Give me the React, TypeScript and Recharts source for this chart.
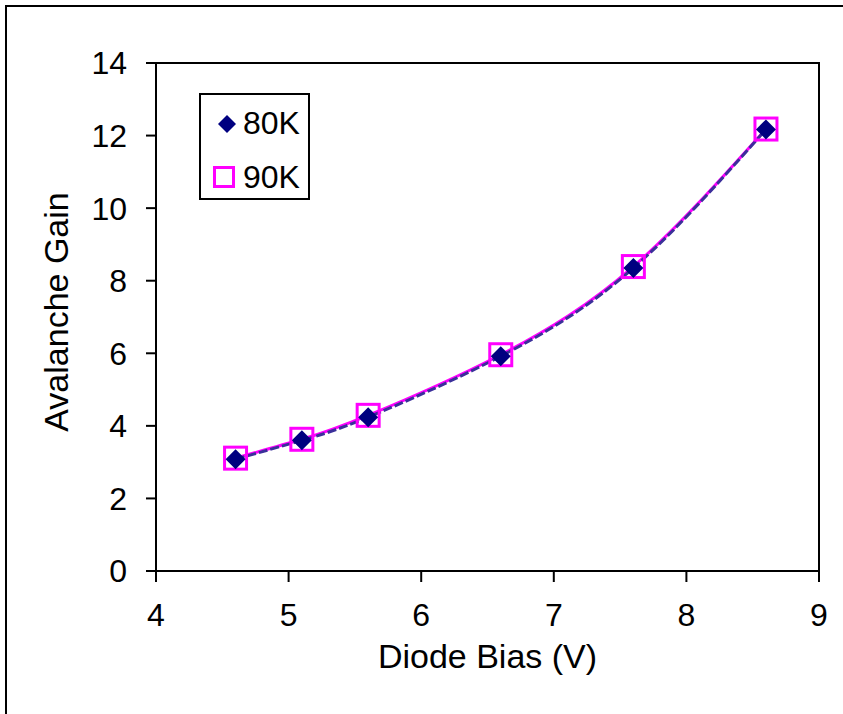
import { ComposedChart, Line, XAxis, YAxis, ReferenceArea, Legend } from 'recharts';

// diode bias (V)
const bias = [4.6, 5.1, 5.6, 6.6, 7.6, 8.6];
// avalanche gain at 80K and 90K
const gain80K = [3.08, 3.6, 4.24, 5.92, 8.35, 12.17];
const gain90K = [3.11, 3.63, 4.29, 5.96, 8.39, 12.18];

const xTicks = [4, 5, 6, 7, 8, 9];
const yTicks = [0, 2, 4, 6, 8, 10, 12, 14];

const NAVY = '#000080';
const MAGENTA = '#FF00FF';
const FONT = '"Liberation Sans", Arial, sans-serif';

const chartData = bias.map((x, i) => ({ x, g80: gain80K[i], g90: gain90K[i] }));

// 菱形点
const Diamond = (props: any) => {
  const { cx, cy } = props;
  if (cx == null || cy == null) return null;
  const r = 10;
  return <path d={`M${cx},${cy - r}L${cx + r},${cy}L${cx},${cy + r}L${cx - r},${cy}Z`} fill={NAVY} />;
};

// 空心方块
const Square = (props: any) => {
  const { cx, cy } = props;
  if (cx == null || cy == null) return null;
  const s = 22;
  return <rect x={cx - s / 2} y={cy - s / 2} width={s} height={s} fill="none" stroke={MAGENTA} strokeWidth={3} />;
};

const YLabel = ({ viewBox }: any) => {
  const cx = viewBox.x + 12;
  const cy = viewBox.y + viewBox.height / 2 - 5;
  return (
    <text x={cx} y={cy} transform={`rotate(-90, ${cx}, ${cy})`} textAnchor="middle" fill="#000" fontSize={34} fontFamily={FONT}>
      Avalanche Gain
    </text>
  );
};

const LegendBox = () => (
  <div style={{ width: 107, height: 103, border: '2px solid #000', background: '#fff', fontFamily: FONT, fontSize: 32, position: 'relative' }}>
    <svg width={30} height={30} style={{ position: 'absolute', left: 11, top: 14 }}>
      <path d="M15,6L24,15L15,24L6,15Z" fill={NAVY} />
    </svg>
    <span style={{ position: 'absolute', left: 42, top: 10, lineHeight: '36px' }}>80K</span>
    <svg width={30} height={30} style={{ position: 'absolute', left: 8, top: 67 }}>
      <rect x={5.5} y={5.5} width={19} height={19} fill="none" stroke={MAGENTA} strokeWidth={3} />
    </svg>
    <span style={{ position: 'absolute', left: 42, top: 64, lineHeight: '36px' }}>90K</span>
  </div>
);

export default function App() {
  return (
    <div style={{ position: 'absolute', left: 0, top: 0, width: 843, height: 714, background: '#fff', overflow: 'hidden' }}>
      <div style={{ position: 'absolute', left: 5, top: 5, right: -10, bottom: -10, borderTop: '2.5px solid #000', borderLeft: '2.5px solid #000' }} />
      <ComposedChart
        width={843}
        height={714}
        data={chartData}
        margin={{ top: 63, right: 24, left: 56, bottom: 0 }}
        style={{ position: 'absolute', left: 0, top: 0 }}
      >
        <XAxis
          dataKey="x"
          type="number"
          domain={[4, 9]}
          ticks={xTicks}
          height={143}
          stroke="#000"
          strokeWidth={2}
          tickSize={11}
          tickMargin={21}
          tick={{ fill: '#000', fontSize: 32, fontFamily: FONT }}
          label={{ value: 'Diode Bias (V)', position: 'insideBottom', offset: 46, fill: '#000', fontSize: 34, fontFamily: FONT }}
        />
        <YAxis
          type="number"
          domain={[0, 14]}
          ticks={yTicks}
          width={100}
          stroke="#000"
          strokeWidth={2}
          tickSize={10}
          tickMargin={19}
          tick={{ fill: '#000', fontSize: 32, fontFamily: FONT }}
          label={<YLabel />}
        />
        <ReferenceArea x1={4} x2={9} y1={0} y2={14} fill="none" stroke="#000" strokeWidth={2} />
        <Legend
          layout="vertical"
          align="center"
          verticalAlign="middle"
          content={<LegendBox />}
          wrapperStyle={{ left: 199, top: 93, width: 111, height: 107 }}
        />
        <Line
          dataKey="g90"
          name="90K"
          type="natural"
          stroke={MAGENTA}
          strokeWidth={3}
          dot={<Square />}
          activeDot={false}
          isAnimationActive={false}
        />
        <Line
          dataKey="g80"
          name="80K"
          type="natural"
          stroke="#3b2f9a"
          strokeWidth={3}
          strokeDasharray="9 3"
          dot={<Diamond />}
          activeDot={false}
          isAnimationActive={false}
        />
      </ComposedChart>
    </div>
  );
}
